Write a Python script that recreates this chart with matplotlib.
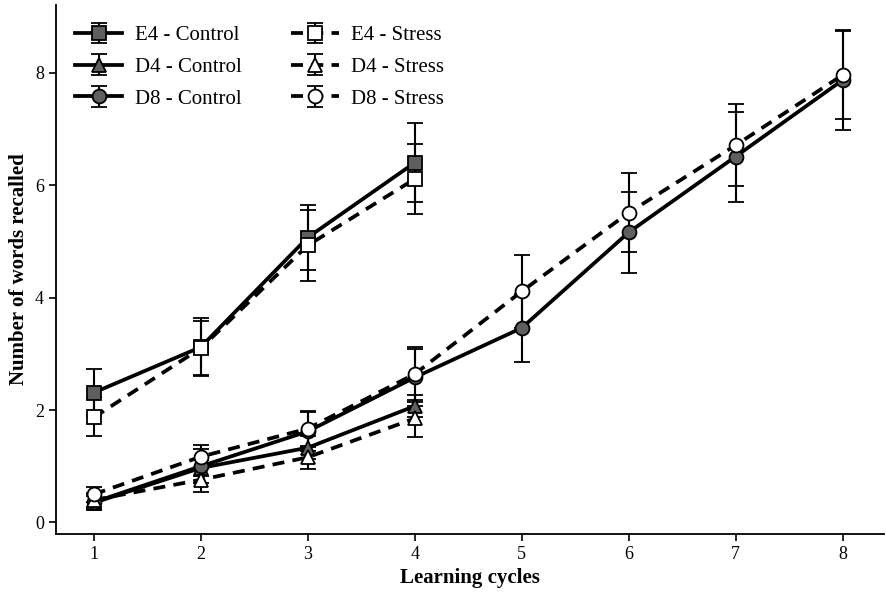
import numpy as np
import matplotlib.pyplot as plt

plt.rcParams['font.family'] = ['Liberation Serif', 'DejaVu Serif']

cycles4 = [1, 2, 3, 4]
cycles8 = [1, 2, 3, 4, 5, 6, 7, 8]

e4_ctrl = [2.31, 3.12, 5.07, 6.40]
e4_ctrl_err = [0.42, 0.52, 0.57, 0.70]
e4_str = [1.87, 3.10, 4.93, 6.11]
e4_str_err = [0.34, 0.48, 0.63, 0.62]

d4_ctrl = [0.35, 0.97, 1.33, 2.07]
d4_ctrl_err = [0.12, 0.15, 0.2, 0.2]
d4_str = [0.40, 0.76, 1.16, 1.85]
d4_str_err = [0.12, 0.22, 0.2, 0.33]

d8_ctrl = [0.36, 1.00, 1.62, 2.58, 3.46, 5.16, 6.51, 7.87]
d8_ctrl_err = [0.12, 0.3, 0.35, 0.5, 0.60, 0.72, 0.80, 0.89]
d8_str = [0.50, 1.17, 1.67, 2.64, 4.11, 5.51, 6.71, 7.96]
d8_str_err = [0.14, 0.20, 0.32, 0.49, 0.65, 0.70, 0.73, 0.78]

fig = plt.figure(figsize=(8.86, 5.97), dpi=100)
ax = fig.add_axes([0.063, 0.106, 0.935, 0.885])

gray = '#5f5f5f'
dash = (0, (3.2, 2.2))
common = dict(color='black', lw=2.7, elinewidth=1.5, capsize=6, capthick=1.5,
              markersize=10, markeredgecolor='black', markeredgewidth=1.3)

ax.errorbar(cycles4, e4_ctrl, yerr=e4_ctrl_err, marker='s', mfc=gray, ls='-', label='E4 - Control', **common)
ax.errorbar(cycles4, d4_ctrl, yerr=d4_ctrl_err, marker='^', mfc=gray, ls='-', label='D4 - Control', **common)
ax.errorbar(cycles8, d8_ctrl, yerr=d8_ctrl_err, marker='o', mfc=gray, ls='-', label='D8 - Control', **common)
ax.errorbar(cycles4, e4_str, yerr=e4_str_err, marker='s', mfc='white', ls=dash, label='E4 - Stress', **common)
ax.errorbar(cycles4, d4_str, yerr=d4_str_err, marker='^', mfc='white', ls=dash, label='D4 - Stress', **common)
ax.errorbar(cycles8, d8_str, yerr=d8_str_err, marker='o', mfc='white', ls=dash, label='D8 - Stress', **common)

ax.set_xlim(0.645, 8.39)
ax.set_ylim(-0.2, 9.2)
ax.set_xticks(cycles8)
ax.set_yticks([0, 2, 4, 6, 8])
ax.tick_params(labelsize=13, width=1.2, length=5)
ax.spines['top'].set_visible(False)
ax.spines['right'].set_visible(False)
ax.spines['left'].set_linewidth(1.3)
ax.spines['bottom'].set_linewidth(1.3)

ax.set_xlabel('Learning cycles', fontsize=15, fontweight='bold')
ax.set_ylabel('Number of words recalled', fontsize=15, fontweight='bold')

ax.legend(loc='upper left', ncol=2, frameon=False, fontsize=15,
          handlelength=2.3, handletextpad=0.6, columnspacing=2.35,
          labelspacing=0.58, bbox_to_anchor=(0.0, 0.997))

fig.savefig('out.png', dpi=100)
